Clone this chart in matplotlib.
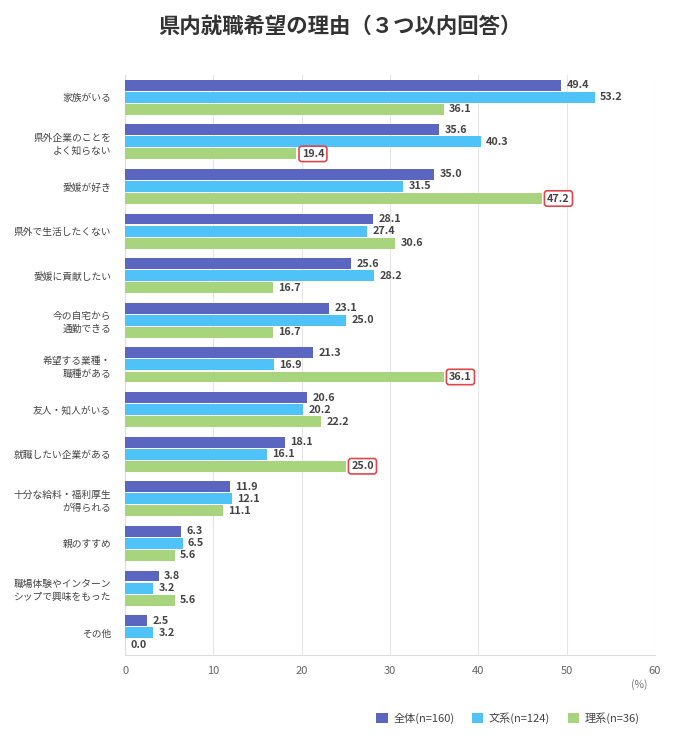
import numpy as np
import matplotlib
matplotlib.use("Agg")
import matplotlib.pyplot as plt

plt.rcParams['font.family'] = ['Noto Sans CJK JP', 'DejaVu Sans']

categories = ['家族がいる', '県外企業のことを\nよく知らない', '愛媛が好き', '県外で生活したくない',
              '愛媛に貢献したい', '今の自宅から\n通勤できる', '希望する業種・\n職種がある', '友人・知人がいる',
              '就職したい企業がある', '十分な給料・福利厚生\nが得られる', '親のすすめ',
              '職場体験やインターン\nシップで興味をもった', 'その他']
total = [49.4, 35.6, 35.0, 28.1, 25.6, 23.1, 21.3, 20.6, 18.1, 11.9, 6.3, 3.8, 2.5]
bunkei = [53.2, 40.3, 31.5, 27.4, 28.2, 25.0, 16.9, 20.2, 16.1, 12.1, 6.5, 3.2, 3.2]
rikei = [36.1, 19.4, 47.2, 30.6, 16.7, 16.7, 36.1, 22.2, 25.0, 11.1, 5.6, 5.6, 0.0]
highlight = [1, 2, 6, 8]  # 理系 values boxed in red
series_names = ['全体(n=160)', '文系(n=124)', '理系(n=36)']
colors = ['#5B66C0', '#4FC3F7', '#A9D47E']

fig = plt.figure(figsize=(6.8, 7.38), dpi=100)
ax = fig.add_axes([0.184, 0.1125, 0.779, 0.786])

y = np.arange(len(categories))
h = 0.245
off = 0.27
txt_color = '#444444'

for i, (vals, name, c) in enumerate(zip([total, bunkei, rikei], series_names, colors)):
    pos = y + (i - 1) * off
    ax.barh(pos, vals, height=h, color=c, label=name, zorder=3)
    for j, (p, v) in enumerate(zip(pos, vals)):
        box = None
        if i == 2 and j in highlight:
            box = dict(boxstyle='round,pad=0.25', fc='white', ec='#E0464B', lw=1.2)
        ax.text(v + 0.6, p, f'{v:.1f}', va='center', ha='left', fontsize=7.8,
                fontweight='bold', color=txt_color, zorder=4, bbox=box)

ax.set_xlim(0, 60)
ax.set_ylim(12.5, -0.5)
ax.set_xticks(range(0, 61, 10))
ax.set_yticks(y)
ax.set_yticklabels(categories, fontsize=7.0, color=txt_color, linespacing=1.35)
ax.tick_params(axis='y', length=0, pad=10)
ax.tick_params(axis='x', length=0, pad=8, labelsize=8, labelcolor='#666666')
ax.grid(axis='x', color='#E6E6E6', lw=0.8, zorder=0)
for s in ['top', 'right']:
    ax.spines[s].set_visible(False)
for s in ['left', 'bottom']:
    ax.spines[s].set_color('#DDDDDD')
    ax.spines[s].set_linewidth(0.8)

fig.text(0.952, 0.068, '(%)', ha='right', fontsize=7.5, color='#777777')
fig.suptitle('県内就職希望の理由（３つ以内回答）', y=0.978, fontsize=15.4, fontweight='bold', color='#333333')

fig.legend(loc='lower right', bbox_to_anchor=(0.955, 0.005), ncol=3, frameon=False,
           fontsize=8, handlelength=1.0, handleheight=1.0, columnspacing=1.6,
           handletextpad=0.5, labelcolor=txt_color)

fig.savefig('out.png', dpi=100, facecolor='white')
